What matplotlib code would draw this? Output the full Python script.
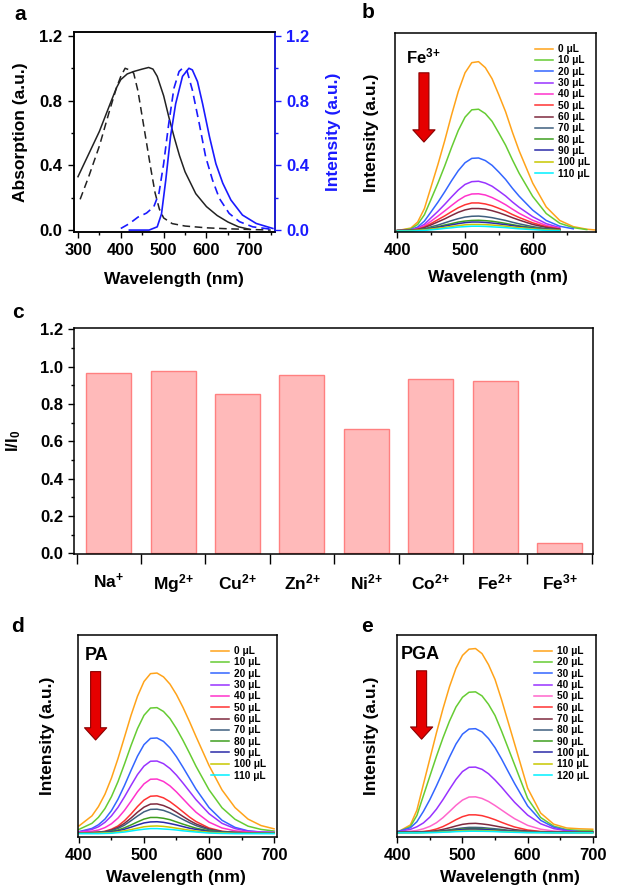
import numpy as np
import matplotlib
matplotlib.use("Agg")
import matplotlib.pyplot as plt
from matplotlib.ticker import MultipleLocator, NullFormatter

plt.rcParams['font.family'] = ['Liberation Sans', 'DejaVu Sans']
plt.rcParams['font.weight'] = 'bold'
plt.rcParams['mathtext.fontset'] = 'custom'
plt.rcParams['mathtext.rm'] = 'Liberation Sans:bold'
plt.rcParams['mathtext.bf'] = 'Liberation Sans:bold'
plt.rcParams['mathtext.it'] = 'Liberation Sans:bold:italic'
plt.rcParams['axes.linewidth'] = 1.1

nan = np.nan

# ---- panel a: absorption / emission ----
abs_solid_wl = [300, 325, 350, 375, 390, 400, 415, 430, 450, 465, 475, 485, 500, 512, 525, 537, 550, 575, 600, 625, 650, 675, 700]
abs_solid = [0.33, 0.47, 0.61, 0.78, 0.88, 0.93, 0.965, 0.98, 0.995, 1.005, 0.995, 0.95, 0.83, 0.70, 0.57, 0.46, 0.36, 0.225, 0.145, 0.09, 0.05, 0.02, 0.005]
abs_dash_wl = [305, 325, 350, 375, 390, 400, 410, 420, 430, 440, 450, 460, 470, 480, 490, 500, 520, 550, 600, 650, 700, 750]
abs_dash = [0.19, 0.33, 0.52, 0.75, 0.88, 0.95, 1.0, 0.99, 0.97, 0.86, 0.70, 0.54, 0.38, 0.23, 0.13, 0.075, 0.04, 0.025, 0.014, 0.008, 0.004, 0.0]
em_dash_wl = [400, 420, 440, 460, 477, 489, 500, 512, 524, 536, 544, 555, 567, 583, 598, 614, 630, 653, 677, 708, 755]
em_dash = [0.01, 0.04, 0.08, 0.105, 0.144, 0.227, 0.41, 0.66, 0.876, 0.98, 1.0, 0.98, 0.866, 0.66, 0.454, 0.31, 0.196, 0.103, 0.052, 0.02, 0.004]
em_solid_wl = [420, 466, 485, 495, 505, 516, 528, 544, 559, 567, 579, 591, 607, 622, 638, 657, 684, 716, 755]
em_solid = [0.0, 0.0, 0.02, 0.10, 0.31, 0.577, 0.78, 0.95, 1.0, 0.99, 0.918, 0.78, 0.577, 0.41, 0.29, 0.186, 0.093, 0.041, 0.01]

# ---- panel c: selectivity ----
ions = [r'$\mathbf{Na^{{+}}}$', r'$\mathbf{Mg^{2{+}}}$', r'$\mathbf{Cu^{2{+}}}$', r'$\mathbf{Zn^{2{+}}}$',
        r'$\mathbf{Ni^{2{+}}}$', r'$\mathbf{Co^{2{+}}}$', r'$\mathbf{Fe^{2{+}}}$', r'$\mathbf{Fe^{3{+}}}$']
ratio = [0.965, 0.976, 0.855, 0.955, 0.667, 0.934, 0.924, 0.053]

# ---- titration spectra (b, d, e) ----
wl = [400, 420, 430, 440, 450, 460, 470, 480, 490, 500, 510, 520, 530, 540, 550, 560, 570, 580, 600, 620, 640, 660, 680, 700]

colors = ['#ffa31a', '#66cc33', '#3366ff', '#9933ff', '#ff33cc', '#ff3333',
          '#7f2a3f', '#3f5f7f', '#3f9f1f', '#2b2ba8', '#c8c800', '#00f0ff']
colors_e = ['#ffa31a', '#66cc33', '#3366ff', '#9933ff', '#ff66cc', '#ff3333',
            '#7f2a3f', '#3f5f7f', '#3f9f1f', '#2b2ba8', '#c8c800', '#00f0ff']

fe_labels = ['0', '10', '20', '30', '40', '50', '60', '70', '80', '90', '100', '110']
fe_curves = [
    [0.7, 2.0, 5.0, 11.8, 22.9, 34.0, 45.9, 58.7, 70.6, 80.0, 85.1, 85.6, 82.6, 77.0, 68.9, 60.4, 50.2, 40.8, 24.6, 12.6, 5.8, 2.7, 1.4, 0.8],
    [0.7, 1.6, 3.8, 8.7, 16.6, 24.6, 33.2, 42.4, 51.0, 57.7, 61.4, 61.7, 59.5, 55.6, 49.7, 43.6, 36.3, 29.5, 17.9, 9.3, 4.4, 2.2, 1.2, nan],
    [0.7, 1.2, 2.5, 5.5, 10.2, 15.0, 20.2, 25.7, 30.8, 34.8, 37.0, 37.2, 35.9, 33.5, 30.1, 26.4, 22.0, 18.0, 11.0, 5.8, 2.9, 1.6, nan, nan],
    [0.7, 1.1, 1.9, 3.9, 7.2, 10.4, 13.9, 17.6, 21.1, 23.9, 25.3, 25.5, 24.6, 23.0, 20.6, 18.1, 15.1, 12.4, 7.7, 4.2, 2.2, nan, nan, nan],
    [0.7, 1.0, 1.6, 3.1, 5.5, 8.0, 10.6, 13.3, 15.9, 18.0, 19.1, 19.2, 18.6, 17.3, 15.6, 13.7, 11.5, 9.4, 5.9, 3.3, 1.8, nan, nan, nan],
    [0.7, 0.9, 1.4, 2.5, 4.3, 6.2, 8.1, 10.2, 12.2, 13.7, 14.6, 14.6, 14.1, 13.2, 11.9, 10.5, 8.8, 7.3, 4.6, 2.7, 1.5, nan, nan, nan],
    [0.7, 0.9, 1.3, 2.2, 3.6, 5.1, 6.6, 8.3, 9.9, 11.1, 11.8, 11.8, 11.5, 10.7, 9.7, 8.5, 7.2, 6.0, 3.8, 2.3, 1.4, nan, nan, nan],
    [0.7, 0.8, 1.1, 1.6, 2.6, 3.5, 4.6, 5.7, 6.7, 7.5, 7.9, 8.0, 7.7, 7.2, 6.5, 5.8, 4.9, 4.1, 2.7, 1.7, 1.1, nan, nan, nan],
    [0.7, 0.8, 1.0, 1.4, 2.1, 2.7, 3.5, 4.2, 5.0, 5.5, 5.8, 5.9, 5.7, 5.4, 4.9, 4.3, 3.7, 3.1, 2.2, 1.4, 1.0, nan, nan, nan],
    [0.7, 0.8, 0.9, 1.3, 1.8, 2.4, 3.0, 3.6, 4.2, 4.7, 5.0, 5.0, 4.8, 4.5, 4.1, 3.7, 3.2, 2.7, 1.9, 1.3, 1.0, nan, nan, nan],
    [0.7, 0.7, 0.9, 1.1, 1.5, 1.9, 2.3, 2.8, 3.2, 3.6, 3.8, 3.8, 3.7, 3.5, 3.2, 2.9, 2.5, 2.2, 1.6, 1.1, 0.9, nan, nan, nan],
    [0.5, 0.5, 0.6, 0.8, 1.1, 1.4, 1.8, 2.1, 2.5, 2.7, 2.9, 2.9, 2.8, 2.6, 2.4, 2.2, 1.9, 1.6, 1.2, 0.8, 0.6, nan, nan, nan],
]

pa_labels = ['0', '10', '20', '30', '40', '50', '60', '70', '80', '90', '100', '110']
pa_curves = [
    [5.6, 10.6, 15.2, 21.3, 29.3, 38.9, 49.5, 60.2, 69.7, 77.0, 80.9, 81.2, 79.3, 75.7, 70.5, 64.2, 57.2, 49.8, 35.5, 23.4, 14.7, 9.0, 5.8, 4.2],
    [3.9, 6.9, 9.9, 14.2, 20.1, 27.5, 36.2, 45.3, 53.7, 60.3, 63.9, 64.1, 62.2, 58.7, 53.7, 47.9, 41.6, 35.1, 23.5, 14.6, 8.9, 5.5, 3.9, 3.1],
    [2.8, 4.4, 6.2, 9.0, 13.2, 18.8, 25.6, 33.0, 40.1, 45.8, 48.9, 49.1, 47.4, 44.2, 39.8, 34.6, 29.2, 23.8, 14.7, 8.4, 4.9, 3.2, 2.6, 2.4],
    [2.7, 3.9, 5.2, 7.4, 10.6, 14.8, 20.0, 25.6, 31.0, 35.2, 37.6, 37.7, 36.4, 34.0, 30.7, 26.8, 22.7, 18.6, 11.7, 6.9, 4.3, 3.0, 2.6, 2.4],
    [2.5, 3.0, 3.6, 4.8, 6.7, 9.5, 13.3, 17.8, 22.5, 26.4, 28.7, 28.8, 27.6, 25.4, 22.4, 19.0, 15.6, 12.4, 7.5, 4.6, 3.2, 2.6, 2.4, 2.3],
    [2.2, 2.3, 2.5, 3.0, 4.0, 5.6, 8.2, 11.5, 15.2, 18.4, 20.3, 20.5, 19.5, 17.6, 15.2, 12.6, 10.0, 7.8, 4.6, 3.0, 2.4, 2.3, 2.2, 2.2],
    [2.2, 2.3, 2.5, 2.8, 3.6, 4.9, 6.9, 9.5, 12.4, 14.9, 16.4, 16.5, 15.7, 14.3, 12.4, 10.3, 8.3, 6.6, 4.1, 2.8, 2.4, 2.2, 2.2, 2.2],
    [2.2, 2.3, 2.4, 2.7, 3.3, 4.4, 6.0, 8.2, 10.5, 12.6, 13.8, 13.9, 13.3, 12.1, 10.5, 8.8, 7.2, 5.8, 3.7, 2.7, 2.3, 2.2, 2.2, 2.2],
    [2.2, 2.25, 2.35, 2.5, 2.9, 3.6, 4.7, 6.1, 7.6, 9.0, 9.8, 9.8, 9.4, 8.7, 7.6, 6.5, 5.5, 4.5, 3.2, 2.5, 2.3, 2.2, 2.2, 2.2],
    [2.2, 2.2, 2.3, 2.4, 2.7, 3.2, 4.0, 5.0, 6.1, 7.1, 7.6, 7.7, 7.4, 6.8, 6.1, 5.3, 4.5, 3.9, 2.9, 2.4, 2.3, 2.2, 2.2, 2.2],
    [2.0, 2.0, 2.1, 2.2, 2.3, 2.7, 3.2, 3.8, 4.5, 5.2, 5.5, 5.6, 5.4, 5.0, 4.5, 4.0, 3.5, 3.1, 2.5, 2.2, 2.0, 2.0, 2.0, 2.0],
    [1.8, 1.8, 1.8, 1.9, 2.0, 2.3, 2.6, 3.1, 3.6, 4.0, 4.3, 4.3, 4.1, 3.9, 3.6, 3.2, 2.9, 2.6, 2.1, 1.9, 1.8, 1.8, 1.8, 1.8],
]

pga_labels = ['10', '20', '30', '40', '50', '60', '70', '80', '90', '100', '110', '120']
pga_curves = [
    [2.5, 6.1, 13.4, 26.2, 38.9, 51.6, 63.5, 74.4, 83.5, 89.9, 93.0, 93.3, 90.8, 85.3, 78.0, 68.0, 57.1, 46.2, 24.3, 12.0, 6.5, 4.6, 4.2, 4.0],
    [2.5, 5.3, 10.8, 20.6, 30.3, 40.0, 49.1, 57.4, 64.4, 69.2, 71.7, 71.9, 69.9, 65.7, 60.2, 52.5, 44.2, 35.9, 19.2, 9.8, 5.5, 3.8, 3.4, 3.3],
    [2.8, 4.7, 7.7, 12.8, 18.7, 25.4, 32.5, 39.6, 46.1, 51.0, 53.5, 53.7, 52.1, 48.8, 44.3, 38.7, 32.6, 26.6, 15.5, 8.4, 5.0, 3.4, 2.8, 2.6],
    [2.8, 3.9, 5.2, 7.1, 10.0, 13.9, 18.6, 23.7, 28.6, 32.5, 34.6, 34.7, 33.6, 31.4, 28.3, 24.8, 21.0, 17.3, 11.0, 6.7, 4.3, 3.2, 2.7, 2.6],
    [2.6, 3.0, 3.4, 4.2, 5.4, 7.2, 9.7, 12.7, 15.8, 18.4, 19.9, 20.0, 19.2, 17.7, 15.7, 13.5, 11.3, 9.2, 5.9, 4.0, 3.1, 2.7, 2.6, 2.5],
    [2.5, 2.6, 2.7, 2.9, 3.3, 4.1, 5.3, 6.9, 8.7, 10.2, 11.1, 11.1, 10.7, 9.8, 8.7, 7.4, 6.2, 5.1, 3.6, 2.9, 2.6, 2.5, 2.5, 2.5],
    [2.5, 2.5, 2.6, 2.7, 2.9, 3.3, 3.9, 4.7, 5.6, 6.4, 6.8, 6.9, 6.6, 6.2, 5.6, 5.0, 4.4, 3.8, 3.1, 2.7, 2.6, 2.5, 2.5, 2.5],
    [2.5, 2.5, 2.5, 2.6, 2.7, 2.9, 3.3, 3.7, 4.2, 4.6, 4.9, 4.9, 4.8, 4.5, 4.2, 3.9, 3.5, 3.2, 2.8, 2.6, 2.5, 2.5, 2.5, 2.5],
    [2.4, 2.4, 2.4, 2.5, 2.6, 2.8, 3.0, 3.4, 3.7, 4.1, 4.3, 4.3, 4.2, 4.0, 3.7, 3.5, 3.2, 3.0, 2.6, 2.5, 2.4, 2.4, 2.4, 2.4],
    [2.4, 2.4, 2.4, 2.5, 2.6, 2.7, 2.9, 3.2, 3.5, 3.8, 4.0, 4.0, 3.9, 3.7, 3.5, 3.3, 3.1, 2.9, 2.6, 2.5, 2.4, 2.4, 2.4, 2.4],
    [2.3, 2.3, 2.3, 2.3, 2.4, 2.5, 2.7, 2.9, 3.1, 3.3, 3.4, 3.4, 3.3, 3.2, 3.1, 2.9, 2.8, 2.6, 2.4, 2.35, 2.3, 2.3, 2.3, 2.3],
    [2.2, 2.2, 2.2, 2.2, 2.3, 2.35, 2.5, 2.6, 2.8, 2.9, 3.0, 3.0, 2.95, 2.9, 2.8, 2.65, 2.55, 2.45, 2.3, 2.25, 2.2, 2.2, 2.2, 2.2],
]

W, H = 633, 892
fig = plt.figure(figsize=(W / 100, H / 100), dpi=100)


def px_axes(left, top, right, bottom):
    # axes from pixel box of the reference
    return fig.add_axes([left / W, 1 - bottom / H, (right - left) / W, (bottom - top) / H])


def style(ax, size=12):
    ax.tick_params(which='both', direction='out', top=False, right=False, width=1.0, labelsize=size)
    ax.tick_params(which='major', length=4.5)
    ax.tick_params(which='minor', length=2.5)


def spectra(ax, curves, labels, cols, tag, xlim, arrow_x, arrow_top, arrow_bot, tag_x, tag_y, tagsize, leg_x):
    for y, lab, c in zip(curves, labels, cols):
        ax.plot(wl, y, color=c, lw=1.1, label=lab + ' μL')
    ax.set_xlim(*xlim)
    ax.set_ylim(0, 100)
    ax.set_yticks([])
    ax.xaxis.set_major_locator(MultipleLocator(100))
    ax.xaxis.set_minor_locator(MultipleLocator(50))
    style(ax)
    ax.set_xlabel('Wavelength (nm)', fontsize=12.5, fontweight='bold')
    ax.set_ylabel('Intensity (a.u.)', fontsize=12.5, fontweight='bold')
    ax.annotate('', xy=(arrow_x, arrow_bot), xytext=(arrow_x, arrow_top), xycoords='axes fraction',
                arrowprops=dict(arrowstyle='simple,head_length=0.55,head_width=1.0,tail_width=0.45',
                                mutation_scale=16, fc='#e50000', ec='#8a0000', lw=0.8,
                                shrinkA=0, shrinkB=0))
    ax.text(tag_x, tag_y, tag, transform=ax.transAxes, ha='center', va='center',
            fontsize=tagsize, fontweight='bold')
    ax.legend(loc='upper right', bbox_to_anchor=(leg_x, 1.0), frameon=False, fontsize=7.3,
              handlelength=1.8, handletextpad=0.45, labelspacing=0.13, borderaxespad=0.7)


# panel a
axa = px_axes(73.7, 31.7, 275, 231.7)
axa.plot(abs_solid_wl, abs_solid, color='#222222', lw=1.1)
axa.plot(abs_dash_wl, abs_dash, color='#222222', lw=1.1, ls=(0, (5, 3)))
axa.set_xlim(290, 760)
axa.set_ylim(-0.01, 1.226)
axa.xaxis.set_major_locator(MultipleLocator(100))
axa.xaxis.set_minor_locator(MultipleLocator(50))
axa.yaxis.set_major_locator(MultipleLocator(0.4))
axa.yaxis.set_minor_locator(MultipleLocator(0.2))
axa.set_xticks([300, 400, 500, 600, 700])
style(axa)
axa.set_xlabel('Wavelength (nm)', fontsize=12.5, fontweight='bold')
axa.set_ylabel('Absorption (a.u.)', fontsize=12.5, fontweight='bold')
axa.yaxis.set_label_coords(-0.227, 0.5)
axa.xaxis.set_label_coords(0.5, -0.2)

axa2 = axa.twinx()
axa2.plot(em_solid_wl, em_solid, color='#1a1aff', lw=1.2)
axa2.plot(em_dash_wl, em_dash, color='#1a1aff', lw=1.2, ls=(0, (5, 3)))
axa2.set_ylim(-0.01, 1.226)
axa2.yaxis.set_major_locator(MultipleLocator(0.4))
axa2.yaxis.set_minor_locator(MultipleLocator(0.2))
axa2.tick_params(which='both', direction='out', colors='#1a1aff', width=1.0, labelsize=12)
axa2.tick_params(which='major', length=4.5)
axa2.tick_params(which='minor', length=2.5)
axa2.spines['right'].set_color('#1a1aff')
axa2.set_ylabel('Intensity (a.u.)', fontsize=12.5, fontweight='bold', color='#1a1aff')
axa2.yaxis.set_label_coords(1.253, 0.5)

# panel b
axb = px_axes(395, 33, 596, 232)
spectra(axb, fe_curves, fe_labels, colors, r'$\mathbf{Fe^{3{+}}}$', (396.5, 693.6),
        0.144, 0.80, 0.452, 0.14, 0.88, 12, 1.025)
axb.yaxis.set_label_coords(-0.08, 0.5)
axb.xaxis.set_label_coords(0.51, -0.19)

# panel c
axc = px_axes(74, 328.3, 593.3, 554)
xpos = np.arange(len(ions))
axc.bar(xpos, ratio, width=0.7, color='#ffbaba', edgecolor='#ff8080', lw=1.0)
axc.set_xlim(-0.54, 7.525)
axc.set_ylim(-0.004, 1.205)
axc.yaxis.set_major_locator(MultipleLocator(0.2))
axc.yaxis.set_minor_locator(MultipleLocator(0.1))
axc.set_xticks(np.arange(-0.5, 8, 1))
axc.xaxis.set_major_formatter(NullFormatter())
axc.set_xticks(xpos, minor=True)
axc.set_xticklabels(ions, minor=True)
style(axc)
axc.tick_params(axis='x', which='major', length=7)
axc.tick_params(axis='x', which='minor', length=0, pad=13, labelsize=12.5)
axc.set_ylabel(r'$\mathbf{I/I_0}$', fontsize=12)
axc.yaxis.set_label_coords(-0.098, 0.5)

# panel d
axd = px_axes(78.3, 635, 277.3, 837.3)
spectra(axd, pa_curves, pa_labels, colors, 'PA', (399, 705),
        0.087, 0.819, 0.481, 0.09, 0.90, 13, 1.0)
axd.yaxis.set_label_coords(-0.117, 0.5)
axd.xaxis.set_label_coords(0.49, -0.16)

# panel e
axe = px_axes(396.7, 635, 596, 837.3)
spectra(axe, pga_curves, pga_labels, colors_e, 'PGA', (399, 705),
        0.125, 0.823, 0.485, 0.117, 0.905, 13, 1.02)
axe.yaxis.set_label_coords(-0.089, 0.5)
axe.xaxis.set_label_coords(0.57, -0.16)

# panel letters
for lab, x, y in [('a', 20, 15), ('b', 368, 13), ('c', 18, 313), ('d', 18, 627), ('e', 367, 627)]:
    fig.text(x / W, 1 - y / H, lab, fontsize=15, fontweight='bold', ha='center', va='center')

fig.savefig('out.png', dpi=100)
